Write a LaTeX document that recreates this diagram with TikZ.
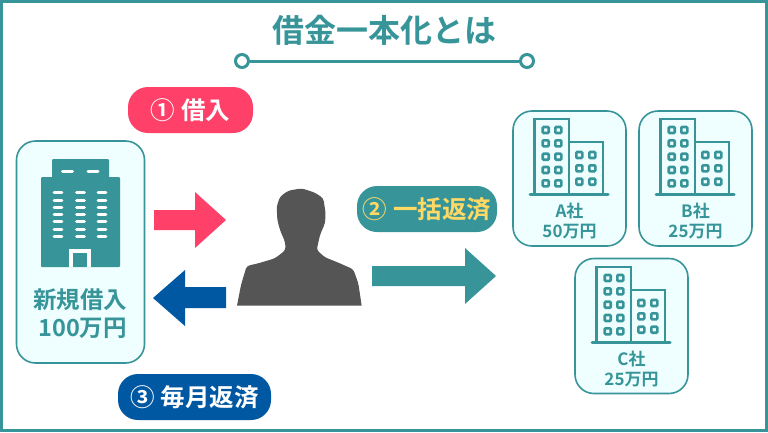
\documentclass[tikz,border=0pt]{standalone}
\usepackage{fontspec}
\setmainfont{Noto Sans CJK JP}[BoldFont={Noto Sans CJK JP Bold}]
\definecolor{teal1}{HTML}{379599}
\definecolor{pale}{HTML}{EFFFFF}
\definecolor{rose}{HTML}{FF4169}
\definecolor{navy1}{HTML}{0058A3}
\definecolor{gold}{HTML}{FFD966}
\definecolor{shadow}{HTML}{555555}
\begin{document}
\begin{tikzpicture}[x=1pt,y=-1pt]
	% les styles
	\tikzstyle{titre}=[text=teal1,font=\bfseries\fontsize{32}{36}\selectfont]
	\tikzstyle{pill}=[rectangle,rounded corners=20pt,inner sep=0pt,minimum height=46pt,font=\bfseries\fontsize{24.5}{28}\selectfont]
	\tikzstyle{card}=[rectangle,draw=teal1,line width=1.6pt,fill=pale,rounded corners=19pt,inner sep=0pt]
	\tikzstyle{cardtext}=[text=teal1,align=center,font=\bfseries]
	\tikzstyle{pastille}=[circle,draw=teal1,line width=3pt,fill=white,minimum size=13pt,inner sep=0pt]
	\tikzset{
		office/.pic={
			\draw[teal1,line width=2.4pt] (21.3,83.7) -- (21.3,8) -- (56,8) -- (56,83.7);
			\draw[teal1,line width=2.4pt] (56,31) -- (90,31) -- (90,83.7);
			\draw[teal1,line width=3pt,line cap=round] (17,83.7) -- (95,83.7);
			\foreach \wx in {32.7,45.3} \foreach \wy in {19,32.3,45.7,59,72.3}
				\draw[teal1,line width=2.6pt,rounded corners=1pt] (\wx-3,\wy-3) rectangle (\wx+3,\wy+3);
			\foreach \wx in {66.3,79.3} \foreach \wy in {44,57.3,70.7}
				\draw[teal1,line width=2.6pt,rounded corners=1pt] (\wx-3,\wy-3) rectangle (\wx+3,\wy+3);
		}
	}
	\useasboundingbox (0,0) rectangle (768,432);
	\fill[white] (0,0) rectangle (768,432);
	\draw[teal1,line width=3pt] (1.5,1.5) rectangle (766.5,430.5);
	% le titre
	\node[titre] (titre) at (384,30) {借金一本化とは};
	\node[pastille] (g) at (242,61) {};
	\node[pastille] (d) at (527,61) {};
	\draw[teal1,line width=3pt] (g) -- (d);
	% les cartes
	\node[card,minimum width=128pt,minimum height=222pt] (banque) at (80.5,252) {};
	\node[card,minimum width=113pt,minimum height=135pt] (a) at (569.5,178.5) {};
	\node[card,minimum width=113pt,minimum height=135pt] (b) at (695.5,178.5) {};
	\node[card,minimum width=113pt,minimum height=135pt] (c) at (631.5,326) {};
	% la banque
	\fill[teal1,rounded corners=1pt] (52,159) rectangle (109,180);
	\fill[teal1,rounded corners=1pt] (41,177) rectangle (120,267);
	\foreach \wx in {67.5,93}
		\draw[white,line width=3pt,line cap=round] (\wx-5,171) -- (\wx+5,171);
	\foreach \wx in {58,80.5,102} \foreach \wy in {192.7,200,207.3,214.7,221.7,229,236}
		\draw[white,line width=3pt,line cap=round] (\wx-3.8,\wy) -- (\wx+3.8,\wy);
	\fill[white] (69,267) -- (69,249) -- (91,249) -- (91,267) -- cycle;
	\fill[teal1] (73,267) -- (73,253) -- (87,253) -- (87,267) -- cycle;
	\node[cardtext,font=\bfseries\fontsize{23.5}{28}\selectfont] (montant) at (80,314) {新規借入\\~100万円};
	% les immeubles
	\pic at (513,111) {office};
	\pic at (639,111) {office};
	\pic at (575,259) {office};
	\node[cardtext,font=\bfseries\fontsize{17}{20}\selectfont] (ta) at (569.5,221.5) {A社\\50万円};
	\node[cardtext,font=\bfseries\fontsize{17}{20}\selectfont] (tb) at (695.5,221.5) {B社\\25万円};
	\node[cardtext,font=\bfseries\fontsize{17}{20}\selectfont] (tc) at (631.5,369) {C社\\25万円};
	% les étiquettes
	\node[pill,fill=rose,text=white,minimum width=125pt] (e1) at (190.5,110) {① 借入};
	\node[pill,fill=teal1,text=gold,minimum width=140pt] (e2) at (427,209) {② 一括返済};
	\node[pill,fill=navy1,text=white,minimum width=153pt] (e3) at (194.5,397) {③ 毎月返済};
	% les flèches
	\fill[rose] (154,210) -- (195,210) -- (195,192) -- (226,220) -- (195,248) -- (195,230) -- (154,230) -- cycle;
	\fill[navy1] (226,287) -- (185,287) -- (185,270) -- (153,298) -- (185,326) -- (185,308) -- (226,308) -- cycle;
	\fill[teal1] (372,266) -- (465,266) -- (465,248) -- (496,276) -- (465,304) -- (465,286) -- (372,286) -- cycle;
	% la silhouette
	\begin{scope}[shift={(225,170)},x=0.3333pt,y=-0.3333pt]
		\fill[shadow] (36,407) [rounded corners=3pt] -- (48,345) -- (65,288) -- (100,280) -- (150,265) -- (182,240) -- (180,215) -- (165,180) -- (157,150) -- (155,110) -- (165,80) -- (190,62) -- (230,55) -- (270,68) -- (295,85) -- (302,130) -- (300,160) -- (285,195) -- (275,240) -- (300,262) -- (340,278) -- (385,298) -- (400,340) [sharp corners] -- (410,407) -- cycle;
	\end{scope}
\end{tikzpicture}
\end{document}
